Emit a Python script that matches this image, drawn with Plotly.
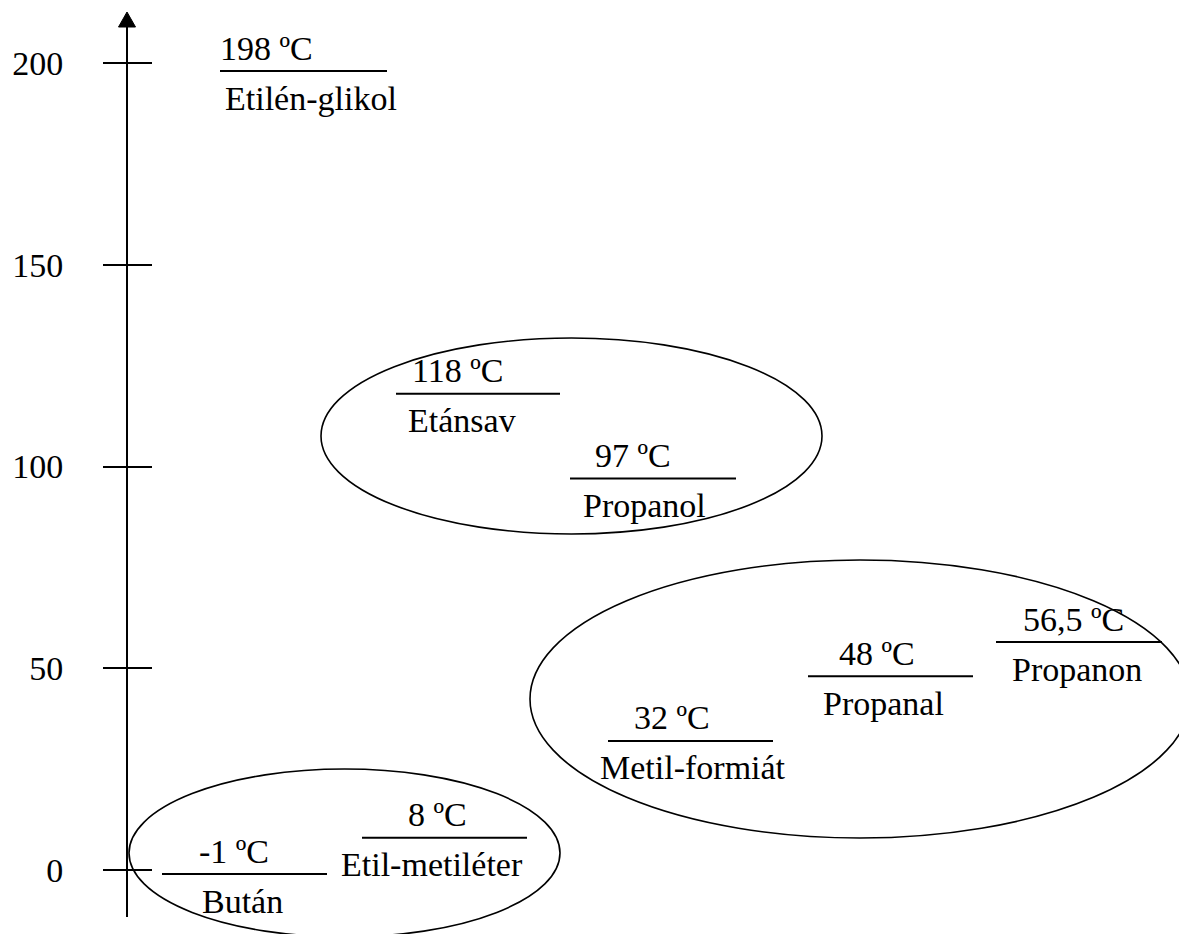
import plotly.graph_objects as go

# ---- data ----
compounds = ["Etilén-glikol", "Etánsav", "Propanol", "Propanon", "Propanal",
             "Metil-formiát", "Etil-metiléter", "Bután"]
boiling_points = [198, 118, 97, 56.5, 48, 32, 8, -1]
temp_labels = ["198 ºC", "118 ºC", "97 ºC", "56,5 ºC", "48 ºC", "32 ºC", "8 ºC", "-1 ºC"]
tick_values = [0, 50, 100, 150, 200]
tick_labels = ["0", "50", "100", "150", "200"]

# ---- layout (horizontal placement of each segment, pixel-like x units) ----
seg_x0 = [220, 396, 570, 996, 808, 608, 362, 162]
seg_x1 = [387, 560, 736, 1162, 973, 773, 527, 327]
temp_x = [266, 457, 633, 1073, 877, 672, 437, 234]
name_x = [311, 462, 644, 1077, 883, 693, 432, 242]

W, H = 1187, 934
OFF = 8                      # page body margin offset
PX_PER_UNIT = 4.035
ZERO_PX = 870 - OFF          # pixel row of value 0 inside the figure
Y_TOP = ZERO_PX / PX_PER_UNIT
Y_BOT = (ZERO_PX - H) / PX_PER_UNIT
FONT = "Liberation Serif"
FS = 34


def val(py):
    """screen pixel row -> axis value"""
    return (ZERO_PX - (py - OFF)) / PX_PER_UNIT


def pap(py):
    """screen pixel row -> paper fraction"""
    return 1 - (py - OFF) / H


fig = go.Figure()

for name, v, lab, x0, x1, tx, nx in zip(compounds, boiling_points, temp_labels,
                                         seg_x0, seg_x1, temp_x, name_x):
    fig.add_trace(go.Scatter(x=[x0, x1], y=[v, v], mode="lines",
                             line=dict(color="black", width=2),
                             showlegend=False, hoverinfo="skip", yaxis="y"))
    fig.add_annotation(x=tx, y=v, xref="x", yref="y", text=lab, showarrow=False,
                       xanchor="center", yanchor="middle", yshift=23,
                       font=dict(family=FONT, size=FS, color="black"))
    fig.add_annotation(x=nx, y=v, xref="x", yref="y", text=name, showarrow=False,
                       xanchor="center", yanchor="middle", yshift=-27,
                       font=dict(family=FONT, size=FS, color="black"))

# dummy trace on y2 so the overlaying axis renders
fig.add_trace(go.Scatter(x=[None], y=[None], yaxis="y2", showlegend=False,
                         hoverinfo="skip"))

# group ellipses (screen pixel bounds)
ellipses = [
    (321, 822, 338, 534),
    (530, 1190, 560, 838),
    (129, 560, 769, 937),
]
for x0, x1, py0, py1 in ellipses:
    fig.add_shape(type="circle", xref="x", yref="y", x0=x0, x1=x1,
                  y0=val(py1), y1=val(py0),
                  line=dict(color="black", width=1.6), fillcolor="rgba(0,0,0,0)")

# axis line with arrow
AX = 127
fig.add_shape(type="line", xref="x", yref="paper", x0=AX, x1=AX,
              y0=pap(917), y1=pap(26), line=dict(color="black", width=2))
fig.add_shape(type="path", xref="x", yref="paper",
              path=f"M {AX-8.5} {pap(27)} L {AX+8.5} {pap(27)} L {AX} {pap(12)} Z",
              fillcolor="black", line=dict(color="black", width=1))

axis_common = dict(range=[Y_BOT, Y_TOP], showgrid=False, zeroline=False,
                   showline=False, tickvals=tick_values, ticklen=24, tickwidth=2,
                   tickcolor="black", anchor="free", position=(AX - OFF) / W,
                   fixedrange=True)

fig.update_layout(
    width=W, height=H,
    margin=dict(l=0, r=0, t=0, b=0),
    paper_bgcolor="white", plot_bgcolor="white",
    xaxis=dict(range=[OFF, W + OFF], visible=False, fixedrange=True),
    yaxis=dict(**axis_common, ticks="outside", ticktext=tick_labels,
               showticklabels=True, ticklabelstandoff=33,
               tickfont=dict(family=FONT, size=FS, color="black")),
    yaxis2=dict(**axis_common, ticks="inside", showticklabels=False,
                overlaying="y", side="left"),
    showlegend=False,
)

fig.write_html("out.html")
